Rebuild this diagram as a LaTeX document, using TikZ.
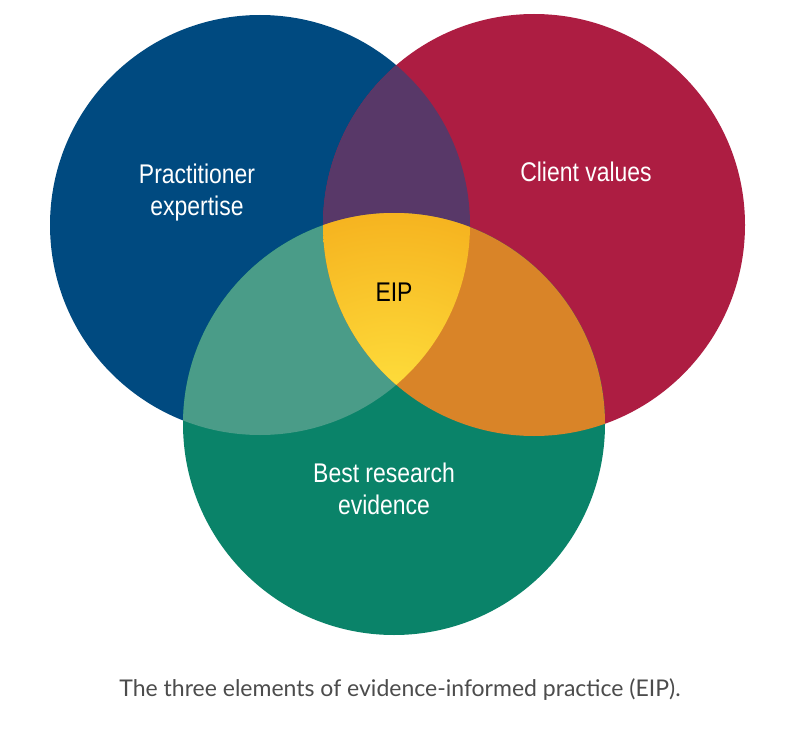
\documentclass[tikz,border=0pt]{standalone}
\usepackage{fontspec}
\setmainfont{Liberation Sans}
\newfontfamily\capfont{Lato}
\definecolor{cblue}{RGB}{0,74,128}
\definecolor{cred}{RGB}{173,29,66}
\definecolor{cgreen}{RGB}{10,131,105}
\definecolor{cpurple}{RGB}{88,56,104}
\definecolor{cteal}{RGB}{74,156,136}
\definecolor{corange}{RGB}{217,132,40}
\definecolor{cyel}{RGB}{255,228,64}
\definecolor{cyel2}{RGB}{246,180,32}
\begin{document}
\begin{tikzpicture}[x=1pt,y=-1pt,
  lab/.style={text=white,font=\fontsize{27}{32}\selectfont,align=center,xscale=0.85}]
\useasboundingbox (0,0) rectangle (800,730);
\fill[white] (0,0) rectangle (800,730);
\def\B{(260,225) circle (210)}
\def\R{(534,225) circle (211)}
\def\G{(394,424) circle (211)}
\fill[cblue] \B;
\fill[cred] \R;
\fill[cgreen] \G;
\begin{scope}\clip \B; \fill[cpurple] \R; \fill[cteal] \G;\end{scope}
\begin{scope}\clip \R; \fill[corange] \G;\end{scope}
\begin{scope}\clip \B; \clip \R; \shade[inner color=cyel,outer color=cyel2] \G;\end{scope}
\node[lab] (pe) at (197,193) {Practitioner\\expertise};
\node[lab] (cv) at (586,172) {Client values};
\node[lab] (br) at (384,489) {Best research\\evidence};
\node[lab,text=black] (eip) at (394,292) {EIP};
\node[text=black!70,font=\capfont\fontsize{23}{28}\selectfont] (cap) at (400,690) {The three elements of evidence-informed practice (EIP).};
\end{tikzpicture}
\end{document}
